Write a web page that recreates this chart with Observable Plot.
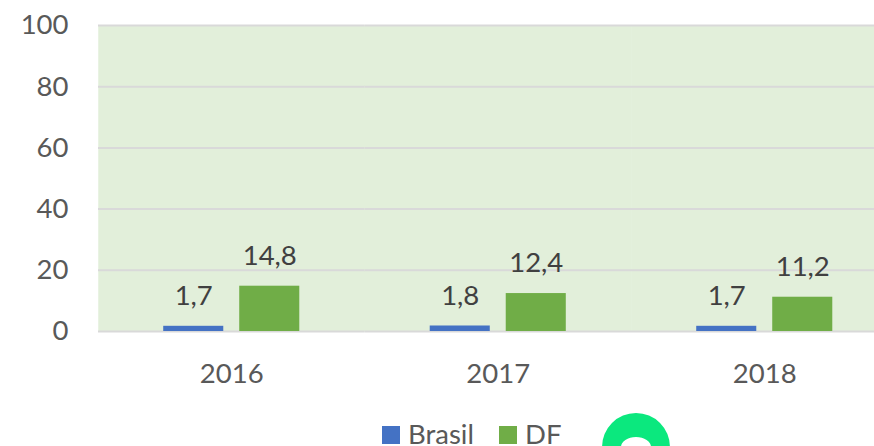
<!DOCTYPE html>
<html><head><meta charset="utf-8">
<script src="https://cdn.jsdelivr.net/npm/d3@7"></script>
<script src="https://cdn.jsdelivr.net/npm/@observablehq/plot@0.6"></script>
<style>
html,body{margin:0;padding:0;background:#fff;width:874px;height:446px;overflow:hidden;font-family:Lato,sans-serif}
#legend{position:absolute;top:421px;left:382px;display:flex;align-items:center;font-size:27.5px;color:#595959;line-height:25px;height:25px}
#legend i{display:inline-block;width:18px;height:18px;margin-right:8px;position:relative;top:1px}
#legend span{display:flex;align-items:center}
#legend span:first-child{width:117px}
#logo{position:absolute;left:602px;top:413px;border-style:solid;border-color:#0be87e;border-width:24px 19px 19px 19px;border-radius:50%;background:#fff;box-sizing:border-box;width:68px;height:68px}
</style></head><body>
<div id="chart"></div>
<div id="legend"></div>
<div id="logo"></div>
<script>
const years = ["2016","2017","2018"];
const series = ["Brasil","DF"];
const brasil = [1.7,1.8,1.7];
const df = [14.8,12.4,11.2];
const colors = ["#4472c4","#70ad47"];
const yTicks = [0,20,40,60,80,100];
const rows = years.flatMap((y,i)=>[
  {year:y,series:"Brasil",value:brasil[i]},
  {year:y,series:"DF",value:df[i]}
]);
const fmt = v => v.toFixed(1).replace(".",",");
const plot = Plot.plot({
  width:874,height:405,
  marginLeft:98,marginRight:0,marginTop:25,marginBottom:74,
  style:{fontFamily:"Lato,sans-serif",fontSize:"27.5px",background:"transparent",overflow:"visible"},
  fx:{domain:years,range:[98,897.5],padding:0,round:false,label:null,axis:null},
  x:{domain:series,paddingInner:0.21,paddingOuter:0.858,round:false,axis:null},
  y:{domain:[0,100],label:null,axis:null},
  color:{domain:series,range:colors},
  marks:[
    Plot.frame({fill:"#e2efda",stroke:"#e2efda",strokeWidth:0.5}),
    Plot.ruleY(yTicks,{stroke:"#d9d9d9",strokeWidth:2}),
    Plot.axisY({ticks:yTicks,tickSize:0,tickPadding:30,anchor:"left",label:null,fill:"#595959",fontSize:27.5}),
    Plot.axisFx({domain:years,tickSize:0,tickPadding:32,anchor:"bottom",label:null,fill:"#595959",fontSize:27.5}),
    Plot.barY(rows,{fx:"year",x:"series",y:"value",fill:"series"}),
    Plot.text(rows,{fx:"year",x:"series",y:"value",text:d=>fmt(d.value),dy:-30,fill:"#404040",fontSize:27.5})
  ]
});
document.getElementById("chart").appendChild(plot);
const lg = document.getElementById("legend");
series.forEach((s,i)=>{
  const sp=document.createElement("span");
  sp.innerHTML=`<i style="background:${colors[i]}"></i>${s}`;
  lg.appendChild(sp);
});
</script>
</body></html>
